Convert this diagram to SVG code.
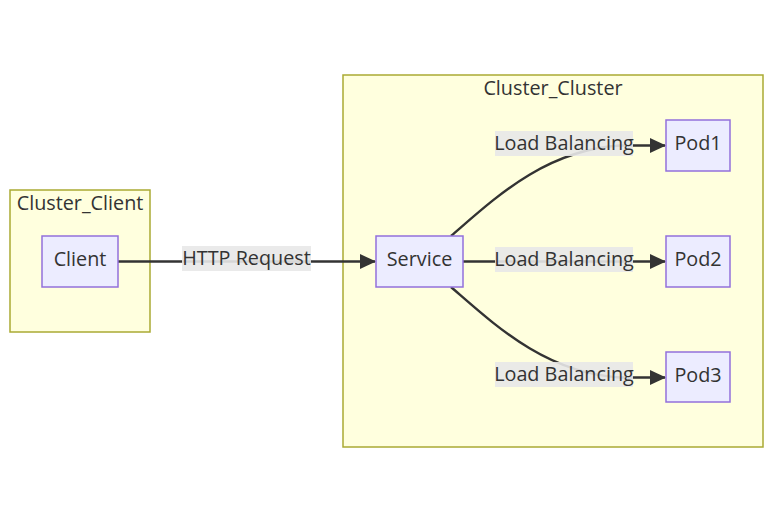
<svg xmlns="http://www.w3.org/2000/svg" width="773" height="523" viewBox="0 0 773 523">
<style>
.cluster{fill:#ffffde;stroke:#aaaa33;stroke-width:1.5}
.node{fill:#ECECFF;stroke:#9370DB;stroke-width:1.5}
.lbl{fill:#e8e8e8;opacity:0.9}
.edge{fill:none;stroke:#333333;stroke-width:2.4}
text{font-family:"Open Sans","Liberation Sans",sans-serif;font-size:19.8px;fill:#333333;text-anchor:middle}
</style>
<defs>
<marker id="arrow" markerUnits="userSpaceOnUse" markerWidth="16" markerHeight="15" refX="15" refY="7.5" orient="auto">
<path d="M0,0 L16,7.5 L0,15 z" fill="#333333"/>
</marker>
</defs>
<rect width="773" height="523" fill="#ffffff"/>
<g id="cluster-client">
<rect class="cluster" x="10" y="190" width="140" height="142"/>
<text x="80" y="210">Cluster_Client</text>
</g>
<g id="cluster-cluster">
<rect class="cluster" x="343" y="75" width="420" height="372"/>
<text x="553" y="94.5">Cluster_Cluster</text>
</g>
<g id="connectors">
<path class="edge" d="M118,261.5 L375,261.5" marker-end="url(#arrow)"/>
<path class="edge" d="M451,236 C495,198 545,150 620,145.5 L665,145.5" marker-end="url(#arrow)"/>
<path class="edge" d="M463,261.5 L665,261.5" marker-end="url(#arrow)"/>
<path class="edge" d="M451,287 C495,325 545,373 620,377.5 L665,377.5" marker-end="url(#arrow)"/>
<rect class="lbl" x="182" y="246" width="129" height="25"/>
<text x="246.5" y="265">HTTP Request</text>
<rect class="lbl" x="495" y="131" width="138" height="25"/>
<text x="564" y="150">Load Balancing</text>
<rect class="lbl" x="495" y="247" width="138" height="25"/>
<text x="564" y="266">Load Balancing</text>
<rect class="lbl" x="495" y="362" width="138" height="25"/>
<text x="564" y="381">Load Balancing</text>
</g>
<g id="node-client">
<rect class="node" x="42" y="236" width="76" height="51"/>
<text x="80" y="266">Client</text>
</g>
<g id="node-service">
<rect class="node" x="376" y="236" width="87" height="51"/>
<text x="419.5" y="266">Service</text>
</g>
<g id="node-pod1">
<rect class="node" x="666" y="120" width="64" height="51"/>
<text x="698" y="150">Pod1</text>
</g>
<g id="node-pod2">
<rect class="node" x="666" y="236" width="64" height="51"/>
<text x="698" y="266">Pod2</text>
</g>
<g id="node-pod3">
<rect class="node" x="666" y="352" width="64" height="50"/>
<text x="698" y="382">Pod3</text>
</g>
</svg>
